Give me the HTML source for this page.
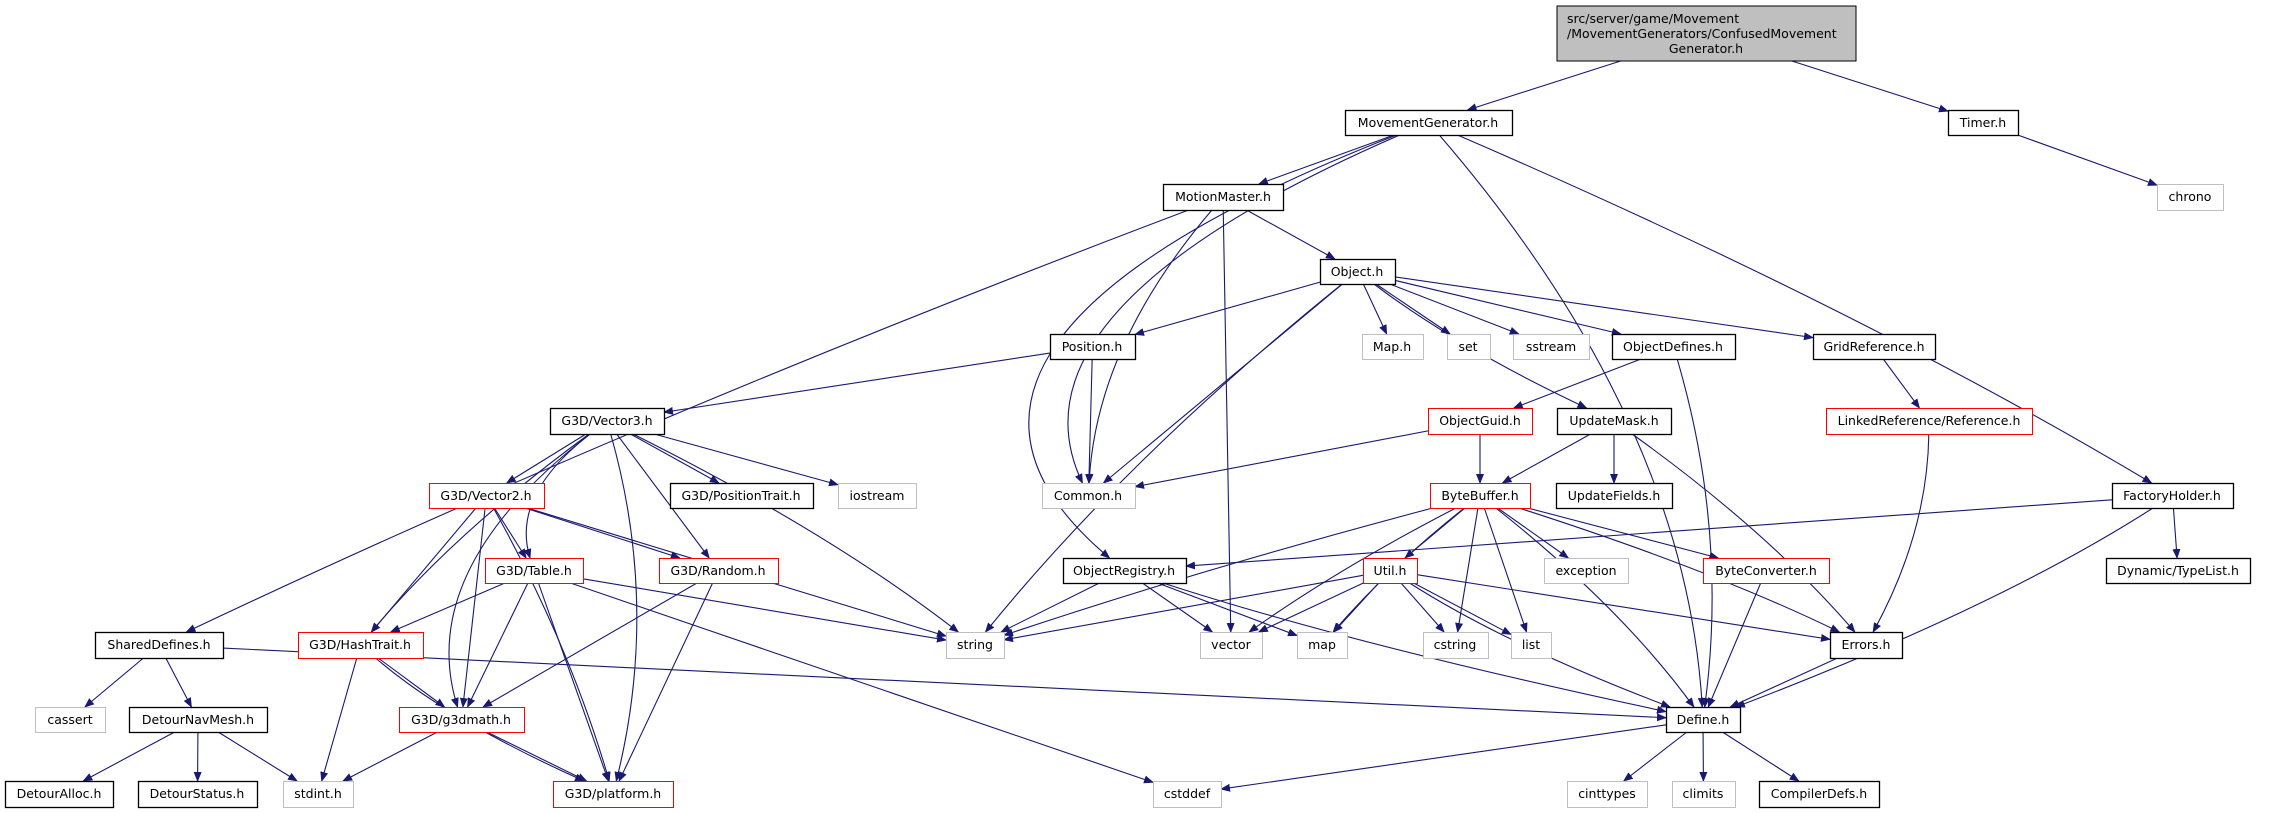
<!DOCTYPE html>
<html><head><meta charset="utf-8"><style>
html,body{margin:0;padding:0;background:#fff;}
svg{display:block;}
text{font-family:"DejaVu Sans","Liberation Sans",sans-serif;font-size:12.5px;fill:#000;}
</style></head><body>
<svg id="g" width="2273" height="813" viewBox="0 0 2273 813" xmlns="http://www.w3.org/2000/svg">
<defs><marker id="a" markerWidth="10" markerHeight="8" refX="9" refY="4" orient="auto" markerUnits="userSpaceOnUse"><path d="M0,0 L10,4 L0,8 z" fill="#191970"/></marker></defs>
<g id="edges" fill="none" stroke="#191970" stroke-width="1.1"></g>
<g id="nodes">
<rect x="1557" y="6" width="299" height="55" fill="#bfbfbf" stroke="#000"/>
</g>
<g text-anchor="middle">
<text x="1567" y="23" text-anchor="start">src/server/game/Movement</text>
<text x="1567" y="38" text-anchor="start">/MovementGenerators/ConfusedMovement</text>
<text x="1706" y="53">Generator.h</text>
<text x="1428" y="127">MovementGenerator.h</text>
<text x="1983" y="127">Timer.h</text>
<text x="1223" y="201">MotionMaster.h</text>
<text x="2190" y="201">chrono</text>
<text x="1357" y="276">Object.h</text>
<text x="1092" y="351">Position.h</text>
<text x="1392" y="351">Map.h</text>
<text x="1468" y="351">set</text>
<text x="1551" y="351">sstream</text>
<text x="1673" y="351">ObjectDefines.h</text>
<text x="1874" y="351">GridReference.h</text>
<text x="607" y="425">G3D/Vector3.h</text>
<text x="1480" y="425">ObjectGuid.h</text>
<text x="1614" y="425">UpdateMask.h</text>
<text x="1929" y="425">LinkedReference/Reference.h</text>
<text x="486" y="500">G3D/Vector2.h</text>
<text x="741" y="500">G3D/PositionTrait.h</text>
<text x="877" y="500">iostream</text>
<text x="1088" y="500">Common.h</text>
<text x="1480" y="500">ByteBuffer.h</text>
<text x="1614" y="500">UpdateFields.h</text>
<text x="2172" y="500">FactoryHolder.h</text>
<text x="534" y="575">G3D/Table.h</text>
<text x="718" y="575">G3D/Random.h</text>
<text x="1124" y="575">ObjectRegistry.h</text>
<text x="1390" y="575">Util.h</text>
<text x="1586" y="575">exception</text>
<text x="1766" y="575">ByteConverter.h</text>
<text x="2178" y="575">Dynamic/TypeList.h</text>
<text x="159" y="649">SharedDefines.h</text>
<text x="360" y="649">G3D/HashTrait.h</text>
<text x="975" y="649">string</text>
<text x="1231" y="649">vector</text>
<text x="1322" y="649">map</text>
<text x="1455" y="649">cstring</text>
<text x="1531" y="649">list</text>
<text x="1866" y="649">Errors.h</text>
<text x="70" y="724">cassert</text>
<text x="198" y="724">DetourNavMesh.h</text>
<text x="461" y="724">G3D/g3dmath.h</text>
<text x="1703" y="724">Define.h</text>
<text x="59" y="798">DetourAlloc.h</text>
<text x="197" y="798">DetourStatus.h</text>
<text x="318" y="798">stdint.h</text>
<text x="613" y="798">G3D/platform.h</text>
<text x="1187" y="798">cstddef</text>
<text x="1607" y="798">cinttypes</text>
<text x="1703" y="798">climits</text>
<text x="1819" y="798">CompilerDefs.h</text>
</g>
</svg>
<script>
var N={
MG:[1345,110,1512,135,'b'],
Timer:[1948,110,2018,135,'b'],
MM:[1163,184,1283,210,'b'],
chrono:[2157,184,2223,210,'g'],
Obj:[1320,259,1395,284,'b'],
Pos:[1050,334,1135,359,'b'],
Maph:[1362,334,1423,359,'g'],
set:[1447,334,1490,359,'g'],
sstream:[1513,334,1589,359,'g'],
ObjDef:[1612,334,1735,359,'b'],
GridRef:[1813,334,1935,359,'b'],
V3:[550,408,664,434,'b'],
Guid:[1428,408,1532,434,'r'],
UMask:[1557,408,1671,434,'b'],
LRef:[1826,408,2032,434,'r'],
V2:[429,483,544,508,'r'],
PTrait:[670,483,813,508,'b'],
iostream:[838,483,916,508,'g'],
Common:[1042,483,1135,508,'g'],
BB:[1430,483,1530,508,'r'],
UFields:[1556,483,1672,508,'b'],
FH:[2112,483,2233,508,'b'],
Table:[485,558,583,583,'r'],
Random:[659,558,778,583,'r'],
OReg:[1063,558,1186,583,'b'],
Util:[1363,558,1417,583,'r'],
exception:[1544,558,1628,583,'g'],
BConv:[1703,558,1829,583,'r'],
TL:[2106,558,2250,583,'b'],
SD:[95,632,223,658,'b'],
Hash:[298,632,423,658,'r'],
string:[946,632,1004,658,'g'],
vector:[1200,632,1262,658,'g'],
map:[1297,632,1347,658,'g'],
cstring:[1423,632,1488,658,'g'],
list:[1511,632,1551,658,'g'],
Errors:[1830,632,1902,658,'b'],
cassert:[35,707,105,732,'g'],
DNM:[129,707,267,732,'b'],
g3d:[399,707,524,732,'r'],
Define:[1666,707,1740,732,'b'],
DA:[5,781,113,807,'b'],
DS:[138,781,257,807,'b'],
stdint:[283,781,353,807,'g'],
plat:[553,781,673,807,'r'],
cstddef:[1153,781,1221,807,'g'],
cinttypes:[1567,781,1647,807,'g'],
climits:[1672,781,1735,807,'g'],
CD:[1759,781,1879,807,'b']
};
N.root=[1557,6,1856,61];
var E=[['root','MG'],['root','Timer'],['Timer','chrono'],
['MG','MM'],['MG','Common',-260],['MG','OReg',-420],['MG','Define',120],['MG','FH',60],
['MM','Obj'],['MM','SD',-60],['MM','Common',-60],['MM','vector'],
['Obj','Pos'],['Obj','Maph'],['Obj','set'],['Obj','sstream'],['Obj','ObjDef'],['Obj','GridRef'],['Obj','Common'],['Obj','string',-40],['Obj','UMask',-30],
['Pos','V3'],['Pos','Common'],['ObjDef','Guid'],['ObjDef','Define',40],['GridRef','LRef'],
['Guid','BB'],['Guid','Common'],['UMask','BB'],['UMask','UFields'],['UMask','Errors',30],['LRef','Errors',30],
['V3','V2'],['V3','PTrait'],['V3','iostream'],['V3','string',40],['V3','Random'],['V3','Table',-60],['V3','Hash',-30],['V3','g3d',-120],['V3','plat',50],
['V2','Table'],['V2','Hash'],['V2','g3d'],['V2','plat',20],['V2','Random'],['V2','string'],
['BB','string',-30],['BB','vector',-20],['BB','map',-15],['BB','Util'],['BB','cstring'],['BB','list'],['BB','exception'],['BB','BConv'],['BB','Errors',40],['BB','Define',30],
['FH','OReg'],['FH','TL'],['FH','Define',60],
['Table','Hash'],['Table','g3d'],['Table','plat'],['Table','string'],['Table','cstddef'],
['Random','g3d'],['Random','plat'],
['OReg','string'],['OReg','vector'],['OReg','map'],['OReg','Define',-60],
['Util','string'],['Util','vector'],['Util','map'],['Util','cstring'],['Util','list'],['Util','Errors'],['Util','Define',-40],
['BConv','Define'],['SD','cassert'],['SD','DNM'],['SD','Define'],
['Hash','g3d'],['Hash','stdint'],['Hash','plat',-40],['Errors','Define'],
['DNM','DA'],['DNM','DS'],['DNM','stdint'],['g3d','stdint'],['g3d','plat'],
['Define','cstddef'],['Define','cinttypes'],['Define','climits'],['Define','CD']];
var NS='http://www.w3.org/2000/svg',ng=document.getElementById('nodes'),eg=document.getElementById('edges');
function c(n){return [(n[0]+n[2])/2,(n[1]+n[3])/2];}
function clip(n,p,q){
 var dx=q[0]-p[0],dy=q[1]-p[1],hw=(n[2]-n[0])/2,hh=(n[3]-n[1])/2;
 var t=Math.min(dx?hw/Math.abs(dx):1e9,dy?hh/Math.abs(dy):1e9);
 return [p[0]+dx*t,p[1]+dy*t];}
E.forEach(function(e){
 var s=N[e[0]],t=N[e[1]],cs=c(s),ct=c(t),bend=e[2]||0;
 var mx=(cs[0]+ct[0])/2+bend,my=(cs[1]+ct[1])/2;
 var a=clip(s,cs,bend?[mx,my]:ct),b=clip(t,ct,bend?[mx,my]:cs);
 var p=document.createElementNS(NS,'path');
 p.setAttribute('d',bend?('M'+a+' Q'+mx+','+my+' '+b):('M'+a+' L'+b));
 p.setAttribute('marker-end','url(#a)');eg.appendChild(p);});
for(var k in N){var n=N[k];if(k=='root')continue;
 var r=document.createElementNS(NS,'rect');
 r.setAttribute('x',n[0]+.5);r.setAttribute('y',n[1]+.5);r.setAttribute('width',n[2]-n[0]);r.setAttribute('height',n[3]-n[1]);
 r.setAttribute('fill','#fff');r.setAttribute('stroke',n[4]=='g'?'#bfbfbf':n[4]=='r'?'#ff0000':'#000');r.setAttribute('stroke-width',n[4]=='b'?1.3:1);
 ng.appendChild(r);}
</script>
</body></html>
